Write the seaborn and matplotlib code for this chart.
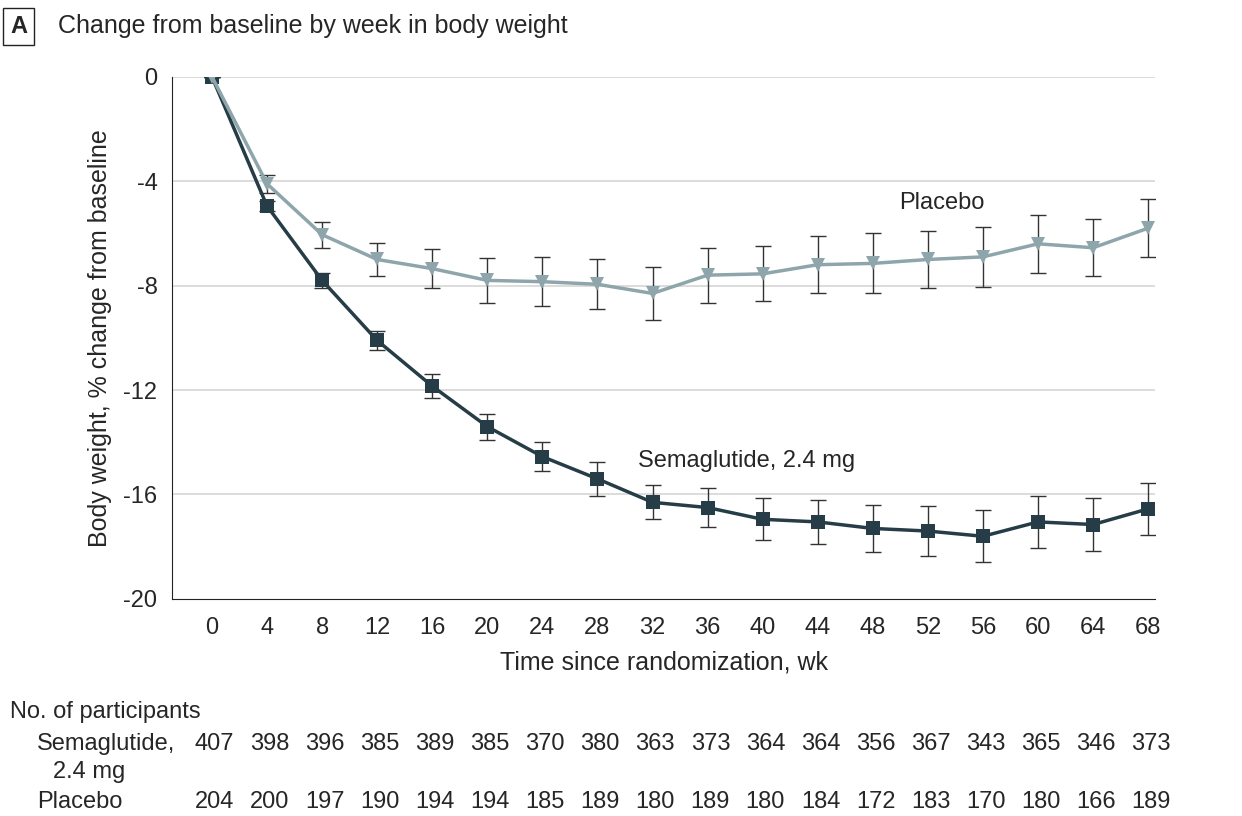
import matplotlib
matplotlib.use("Agg")
import matplotlib.pyplot as plt
import matplotlib.transforms as mtransforms
import seaborn as sns
import pandas as pd

weeks = [0, 4, 8, 12, 16, 20, 24, 28, 32, 36, 40, 44, 48, 52, 56, 60, 64, 68]
sema = [0, -4.95, -7.8, -10.1, -11.85, -13.4, -14.55, -15.4, -16.3, -16.5, -16.95,
        -17.05, -17.3, -17.4, -17.6, -17.05, -17.15, -16.55]
sema_err = [0, 0.2, 0.3, 0.35, 0.45, 0.5, 0.55, 0.65, 0.65, 0.75, 0.8, 0.85, 0.9,
            0.95, 1.0, 1.0, 1.0, 1.0]
plac = [0, -4.1, -6.05, -7.0, -7.35, -7.8, -7.85, -7.95, -8.3, -7.6, -7.55, -7.2,
        -7.15, -7.0, -6.9, -6.4, -6.55, -5.8]
plac_err = [0, 0.35, 0.5, 0.65, 0.75, 0.85, 0.95, 0.95, 1.0, 1.05, 1.05, 1.1, 1.15,
            1.1, 1.15, 1.1, 1.1, 1.1]
n_sema = [407, 398, 396, 385, 389, 385, 370, 380, 363, 373, 364, 364, 356, 367, 343, 365, 346, 373]
n_plac = [204, 200, 197, 190, 194, 194, 185, 189, 180, 189, 180, 184, 172, 183, 170, 180, 166, 189]

dark = "#263d47"
light = "#8ea6ab"

sns.set_style("white")
plt.rcParams["font.family"] = ["Liberation Sans", "DejaVu Sans"]
plt.rcParams["font.size"] = 17

fig = plt.figure(figsize=(12.42, 8.16), dpi=100)
ax = fig.add_axes([0.1385, 0.266, 0.7915, 0.64])

df = pd.DataFrame({"week": weeks * 2, "val": sema + plac,
                   "grp": ["Semaglutide"] * 18 + ["Placebo"] * 18})

for w in [0, -4, -8, -12, -16]:
    ax.axhline(w, color="#d9d9d9", lw=1.3, zorder=0)

ax.errorbar(weeks, plac, yerr=plac_err, fmt="none", ecolor="#333333", elinewidth=1,
            capsize=6, capthick=1, zorder=2)
ax.errorbar(weeks, sema, yerr=sema_err, fmt="none", ecolor="#333333", elinewidth=1,
            capsize=6, capthick=1, zorder=2)
sns.lineplot(data=df, x="week", y="val", hue="grp", style="grp",
             palette={"Semaglutide": dark, "Placebo": light},
             markers={"Semaglutide": "s", "Placebo": "v"}, dashes=False,
             markersize=10, linewidth=2.5, markeredgewidth=0, legend=False, ax=ax, zorder=3)

ax.set_xlim(-2.9, 68.5)
ax.set_ylim(-20, 0)
ax.set_yticks([0, -4, -8, -12, -16, -20])
ax.set_yticklabels(["0", "-4", "-8", "-12", "-16", "-20"])
ax.set_xticks(weeks)
for s in ["top", "right"]:
    ax.spines[s].set_visible(False)
ax.spines["left"].set_color("#222222")
ax.spines["bottom"].set_color("#222222")
ax.tick_params(axis="both", direction="out", length=7, color="#222222", labelsize=17)
ax.tick_params(axis="x", pad=6)
ax.set_xlabel("Time since randomization, wk", fontsize=18, labelpad=8)
ax.set_ylabel("Body weight, % change from baseline", fontsize=18, labelpad=8)

ax.text(53, -4.85, "Placebo", fontsize=17, ha="center", va="center")
ax.text(38.8, -14.7, "Semaglutide, 2.4 mg", fontsize=17, ha="center", va="center")

fig.text(0.008, 0.968, "A", fontsize=17, fontweight="bold", va="center",
         bbox=dict(boxstyle="square,pad=0.3", fc="white", ec="#222222"))
fig.text(0.047, 0.968, "Change from baseline by week in body weight", fontsize=18, va="center")

trans = mtransforms.blended_transform_factory(ax.transData, fig.transFigure)
fig.text(0.008, 0.127, "No. of participants", fontsize=17, va="center")
fig.text(0.03, 0.088, "Semaglutide,", fontsize=17, va="center")
fig.text(0.043, 0.054, "2.4 mg", fontsize=17, va="center")
fig.text(0.03, 0.017, "Placebo", fontsize=17, va="center")
for w, a, b in zip(weeks, n_sema, n_plac):
    ax.text(w + 0.2, 0.088, str(a), transform=trans, fontsize=17, ha="center", va="center")
    ax.text(w + 0.2, 0.017, str(b), transform=trans, fontsize=17, ha="center", va="center")

fig.savefig("out.png", dpi=100)
